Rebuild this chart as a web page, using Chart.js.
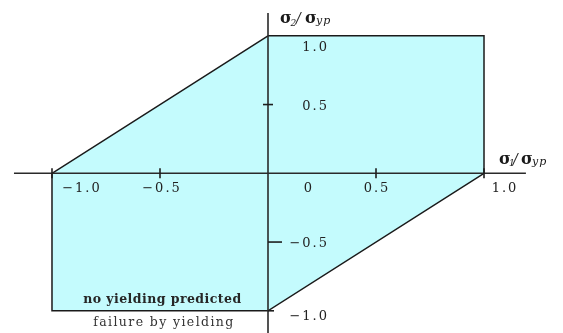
<!DOCTYPE html>
<html><head><meta charset="utf-8">
<style>html,body{margin:0;padding:0;background:#fff;overflow:hidden}canvas{display:block}</style>
<script src="https://cdn.jsdelivr.net/npm/chart.js@4.4.0/dist/chart.umd.min.js"></script>
</head><body>
<canvas id="c" width="563" height="333"></canvas>
<script>
// ---- data ----
const sigma1 = [0, 1, 1, 0, -1, -1, 0];        // σ1/σyp of yield-surface vertices
const sigma2 = [1, 1, 0, -1, -1, 0, 1];        // σ2/σyp of yield-surface vertices
const xAxisEnds = [-1.176, 1.194];
const yAxisEnds = [1.166, -1.17];
const xTickValues = [-1, -0.5, 0.5, 1];
const xLabelValues = [-1, -0.5, 0, 0.5, 1];
const xTickLabels = ['\u22121.0', '\u22120.5', '0', '0.5', '1.0'];
const yLabelValues = [1, 0.5, -0.5, -1];
const yTickLabels = ['1.0', '0.5', '\u22120.5', '\u22121.0'];
const regionLabels = ['no yielding predicted', 'failure by yielding'];
const regionX = [-0.49, -0.485];
const regionY = [-0.92, -1.09];

// ---- styling/layout constants ----
const xLabelDx = [29, 1, 40, 0, 20];
const yLabelDy = [12, 2, 1.5, 6];
const SERIF = '"DejaVu Serif", serif';

function drawSpaced(ctx, text, x, y, sp, align) {
  const chars = [...text];
  const ws = chars.map(c => ctx.measureText(c).width);
  const total = ws.reduce((a, b) => a + b, 0) + sp * (chars.length - 1);
  let cx = align === 'center' ? x - total / 2 : align === 'right' ? x - total : x;
  ctx.textAlign = 'left';
  chars.forEach((c, i) => { ctx.fillText(c, cx, y); cx += ws[i] + sp; });
}
function drawFit(ctx, text, cx, y, target) {
  const chars = [...text];
  const sum = chars.map(c => ctx.measureText(c).width).reduce((a, b) => a + b, 0);
  const sp = (target - sum) / (chars.length - 1);
  drawSpaced(ctx, text, cx, y, sp, 'center');
}
function drawTitle(ctx, x0, base, sub, offs) {
  ctx.textAlign = 'left';
  ctx.textBaseline = 'alphabetic';
  ctx.font = 'bold 16px ' + SERIF; ctx.fillText('\u03C3', x0 + offs[0], base);
  ctx.font = 'italic 9px ' + SERIF; ctx.fillText(sub, x0 + offs[1], base + 2.5);
  ctx.font = 'italic 14px ' + SERIF; ctx.fillText('/', x0 + offs[2], base);
  ctx.font = 'bold 16px ' + SERIF; ctx.fillText('\u03C3', x0 + offs[3], base);
  ctx.font = 'italic 11px ' + SERIF; drawSpaced(ctx, 'yp', x0 + offs[4], base + 1, 1, 'left');
}

const decor = {
  id: 'decor',
  afterDatasetsDraw(chart) {
    const { ctx, scales: { x, y } } = chart;
    const X = v => x.getPixelForValue(v), Y = v => y.getPixelForValue(v);
    ctx.save();
    ctx.strokeStyle = '#1e1e1e';
    ctx.lineWidth = 1.6;
    const seg = (a, b, c, d) => { ctx.beginPath(); ctx.moveTo(a, b); ctx.lineTo(c, d); ctx.stroke(); };
    xTickValues.forEach(v => seg(X(v), Y(0) - 5, X(v), Y(0) + 5));
    seg(X(0) - 5, Y(0.5), X(0) + 5, Y(0.5));
    seg(X(0), Y(-0.5), X(0) + 14, Y(-0.5));
    seg(X(0), Y(-1), X(0) + 6, Y(-1));

    ctx.fillStyle = '#222';
    ctx.font = '13px ' + SERIF;
    ctx.textBaseline = 'middle';
    xLabelValues.forEach((v, i) => drawSpaced(ctx, xTickLabels[i], X(v) + xLabelDx[i], Y(0) + 15, 2, 'center'));
    yLabelValues.forEach((v, i) => drawSpaced(ctx, yTickLabels[i], X(0) + 59, Y(v) + yLabelDy[i], 2, 'right'));

    ctx.font = 'bold 12.5px ' + SERIF;
    ctx.fillStyle = '#262626';
    drawFit(ctx, regionLabels[0], X(regionX[0]), Y(regionY[0]), 158);
    ctx.font = '12.5px ' + SERIF;
    ctx.fillStyle = '#333';
    drawFit(ctx, regionLabels[1], X(regionX[1]), Y(regionY[1]), 140);

    ctx.fillStyle = '#1a1a1a';
    drawTitle(ctx, X(0) + 12, Y(1) - 12.5, '2', [0, 10.5, 16, 25, 36]);
    drawTitle(ctx, X(1) + 15, Y(0) - 9.5, '1', [0, 10, 14, 22, 33]);
    ctx.restore();
  }
};

const pts = (xs, ys) => xs.map((v, i) => ({ x: v, y: ys[i] }));

new Chart(document.getElementById('c'), {
  type: 'scatter',
  data: {
    datasets: [
      {
        label: 'yield surface',
        data: pts(sigma1, sigma2),
        showLine: true,
        fill: 'shape',
        backgroundColor: '#c4fbfd',
        borderColor: '#1a1a1a',
        borderWidth: 1.5,
        pointRadius: 0,
        tension: 0,
        order: 2
      },
      {
        label: 'x axis',
        data: pts(xAxisEnds, [0, 0]),
        showLine: true, fill: false,
        borderColor: '#2a2a2a', borderWidth: 1.6, pointRadius: 0, order: 1
      },
      {
        label: 'y axis',
        data: pts([0, 0], yAxisEnds),
        showLine: true, fill: false,
        borderColor: '#2a2a2a', borderWidth: 1.6, pointRadius: 0, order: 1
      }
    ]
  },
  options: {
    responsive: false,
    animation: false,
    devicePixelRatio: 1,
    layout: { padding: 0 },
    plugins: { legend: { display: false }, tooltip: { enabled: false }, title: { display: false } },
    scales: {
      x: { type: 'linear', display: false, min: -1.2407, max: 1.3657 },
      y: { type: 'linear', display: false, min: -1.1615, max: 1.2604 }
    }
  },
  plugins: [decor]
});
</script>
</body></html>
